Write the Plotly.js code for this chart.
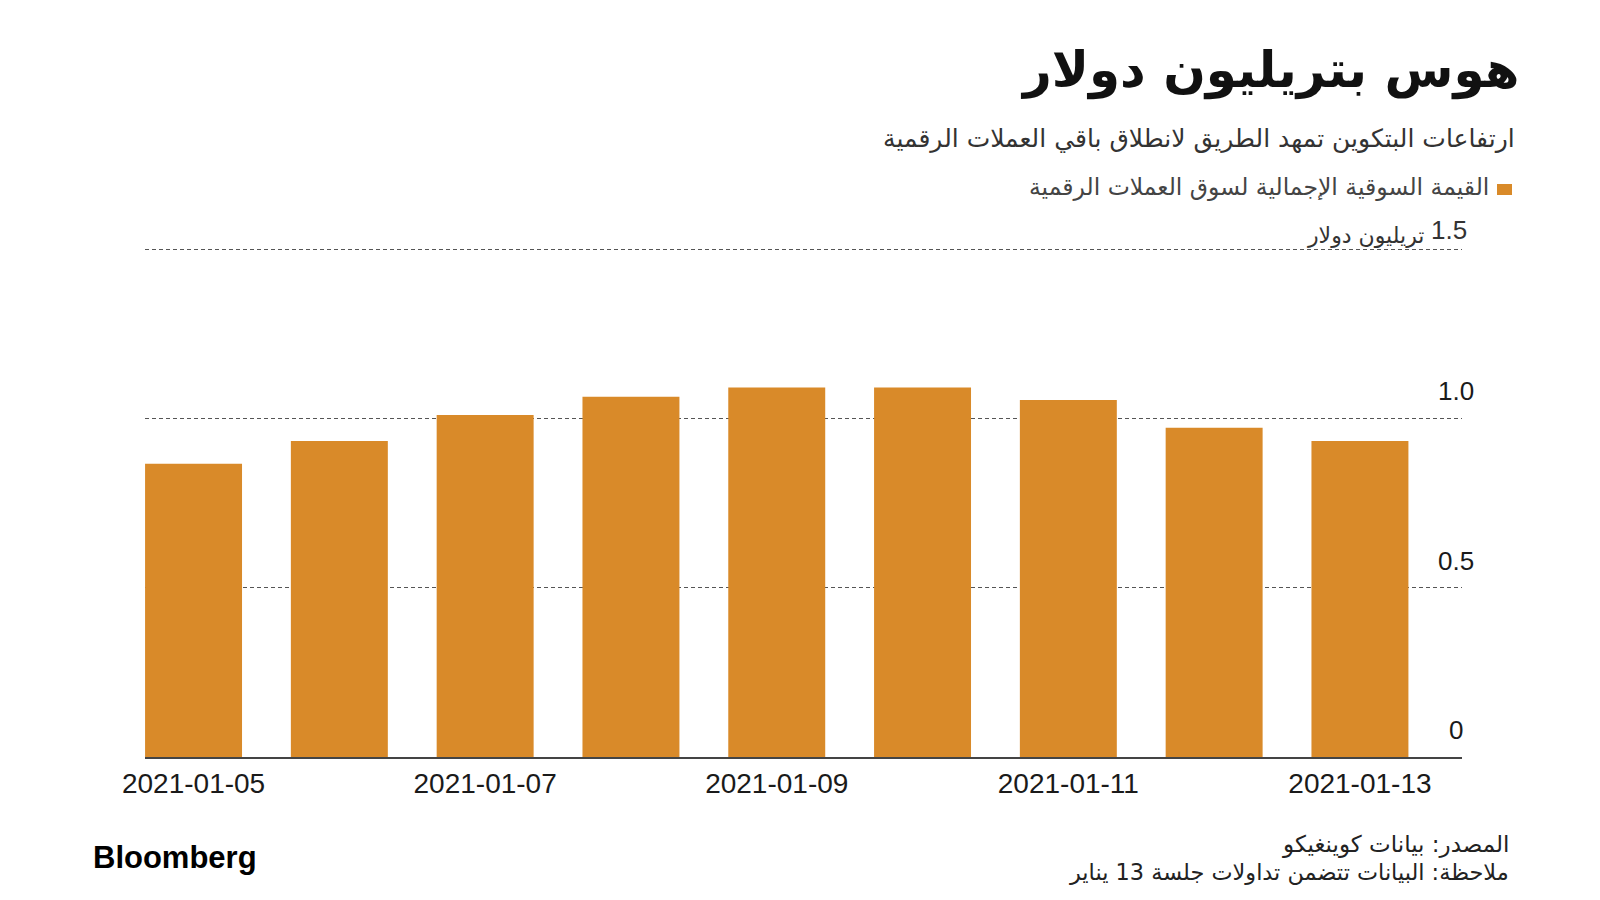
<!DOCTYPE html>
<html>
<head>
<meta charset="utf-8">
<script src="https://cdn.plot.ly/plotly-3.0.1.min.js"></script>
<style>
  html, body { margin: 0; padding: 0; background: #ffffff; }
  #chart { width: 1600px; height: 900px; }
</style>
</head>
<body>
<div id="chart"></div>
<script>
// ---- Data ----
const dates = ["2021-01-05", "2021-01-06", "2021-01-07", "2021-01-08", "2021-01-09",
               "2021-01-10", "2021-01-11", "2021-01-12", "2021-01-13"];
const marketCap = [0.866, 0.933, 1.010, 1.064, 1.091, 1.091, 1.054, 0.972, 0.933];
const xTickVals = ["2021-01-05", "2021-01-07", "2021-01-09", "2021-01-11", "2021-01-13"];
const yTickVals = [0, 0.5, 1.0, 1.5];
const yTickText = ["0", "0.5", "1.0", "1.5"];
const yUnit = "تريليون دولار";
const titleText = "هوس بتريليون دولار";
const subtitleText = "ارتفاعات البتكوين تمهد الطريق لانطلاق باقي العملات الرقمية";
const legendText = "القيمة السوقية الإجمالية لسوق العملات الرقمية";
const sourceText = "المصدر: بيانات كوينغيكو";
const noteText = "ملاحظة: البيانات تتضمن تداولات جلسة 13 يناير";
const brandText = "Bloomberg";

// ---- Geometry helpers (pixel -> paper) ----
const L = 145, R = 1462, T = 248, B = 757;
const W = R - L, H = B - T;
const px = x => (x - L) / W;
const py = y => (B - y) / H;

const barColor = "#D98A29";
const arFont = "DejaVu Sans";
const latFont = "Liberation Sans, Arial, sans-serif";

const trace = {
  type: "bar",
  x: dates,
  y: marketCap,
  marker: { color: barColor, line: { width: 0 } },
  hoverinfo: "x+y",
  showlegend: false
};

const annotations = [];
// y tick labels (above gridlines, right side)
yTickVals.forEach((v, i) => {
  if (v === 1.5) {
    annotations.push({
      xref: "paper", yref: "y", x: px(1469), y: v, xanchor: "right", yanchor: "middle",
      yshift: 19, text: yTickText[i], showarrow: false,
      font: { family: latFont, size: 26, color: "#333" }
    });
    annotations.push({
      xref: "paper", yref: "y", x: px(1426), y: v, xanchor: "right", yanchor: "middle",
      yshift: 14, text: yUnit, showarrow: false,
      font: { family: arFont, size: 22, color: "#333" }
    });
  } else {
    annotations.push({
      xref: "paper", yref: "y", x: px(1456), y: v, xanchor: "center", yanchor: "middle",
      yshift: 27, text: yTickText[i], showarrow: false,
      font: { family: latFont, size: 26, color: "#1a1a1a" }
    });
  }
});
// title
annotations.push({
  xref: "paper", yref: "paper", x: px(1521), y: py(70), xanchor: "right", yanchor: "middle",
  text: titleText, showarrow: false,
  font: { family: arFont, size: 50, weight: "bold", color: "#111" }
});
// subtitle
annotations.push({
  xref: "paper", yref: "paper", x: px(1517), y: py(139), xanchor: "right", yanchor: "middle",
  text: subtitleText, showarrow: false,
  font: { family: arFont, size: 25, color: "#333" }
});
// legend text
annotations.push({
  xref: "paper", yref: "paper", x: px(1491), y: py(187), xanchor: "right", yanchor: "middle",
  text: legendText, showarrow: false,
  font: { family: arFont, size: 23.5, color: "#444" }
});
// footer
annotations.push({
  xref: "paper", yref: "paper", x: px(1511), y: py(844), xanchor: "right", yanchor: "middle",
  text: sourceText, showarrow: false,
  font: { family: arFont, size: 23, color: "#222" }
});
annotations.push({
  xref: "paper", yref: "paper", x: px(1511), y: py(873), xanchor: "right", yanchor: "middle",
  text: noteText, showarrow: false,
  font: { family: arFont, size: 22.4, color: "#222" }
});
// brand
annotations.push({
  xref: "paper", yref: "paper", x: px(91), y: py(857), xanchor: "left", yanchor: "middle",
  text: brandText, showarrow: false,
  font: { family: latFont, size: 31, weight: "bold", color: "#000" }
});

const layout = {
  width: 1600, height: 900,
  margin: { l: L, r: 1600 - R, t: T, b: 900 - B, pad: 0 },
  paper_bgcolor: "#ffffff",
  plot_bgcolor: "#ffffff",
  bargap: 0.335,
  showlegend: false,
  xaxis: {
    type: "category",
    range: [-0.333, 8.70],
    tickmode: "array",
    tickvals: xTickVals,
    ticktext: xTickVals,
    ticks: "",
    showgrid: false,
    showline: true,
    linecolor: "#444",
    linewidth: 1.5,
    zeroline: false,
    tickfont: { family: latFont, size: 28, color: "#1a1a1a" },
    ticklabelstandoff: 1,
    fixedrange: true
  },
  yaxis: {
    range: [0, 1.503],
    tickmode: "array",
    tickvals: yTickVals,
    showticklabels: false,
    showgrid: true,
    gridcolor: "#555",
    gridwidth: 1,
    griddash: "4px,3px",
    zeroline: false,
    showline: false,
    fixedrange: true
  },
  shapes: [{
    type: "rect", xref: "paper", yref: "paper",
    x0: px(1497), x1: px(1512), y0: py(195), y1: py(184),
    fillcolor: barColor, line: { width: 0 }
  }],
  annotations: annotations
};

Plotly.newPlot("chart", [trace], layout, { displayModeBar: false, staticPlot: true });
</script>
</body>
</html>
